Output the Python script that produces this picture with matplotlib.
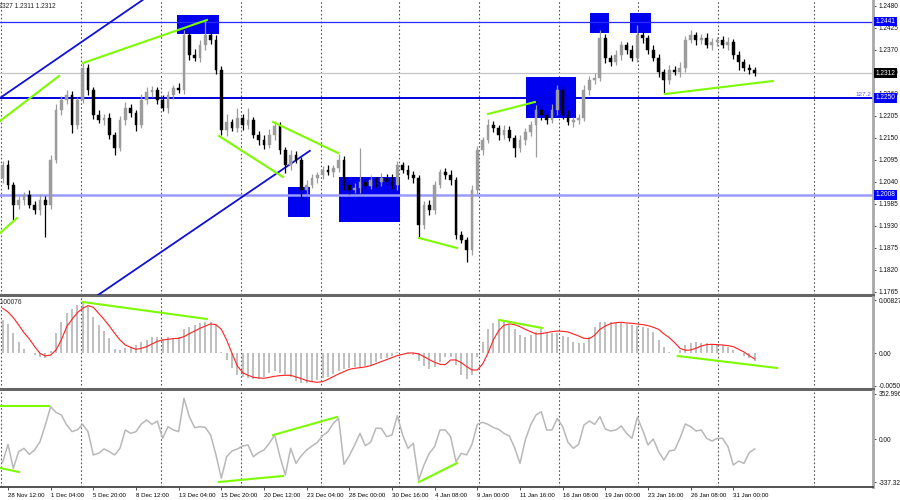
import matplotlib
matplotlib.use('Agg')
import matplotlib.pyplot as plt
import matplotlib.transforms as mtransforms
import numpy as np

# ---------------- data ----------------
first_open = 1.2050
close = [
    1.2083, 1.2033, 1.1983, 1.1995, 1.2008, 1.1983, 1.1970, 1.1995, 1.1983, 1.2095,
    1.2220, 1.2245, 1.2258, 1.2183, 1.2245, 1.2325, 1.2270, 1.2208, 1.2195, 1.2200,
    1.2158, 1.2125, 1.2195, 1.2225, 1.2213, 1.2183, 1.2245, 1.2265, 1.2270, 1.2245,
    1.2225, 1.2258, 1.2275, 1.2270, 1.2408, 1.2358, 1.2350, 1.2383, 1.2408, 1.2395,
    1.2320, 1.2170, 1.2190, 1.2175, 1.2200, 1.2183, 1.2195, 1.2158, 1.2145, 1.2133,
    1.2158, 1.2180, 1.2120, 1.2083, 1.2108, 1.2095, 1.2020, 1.2033, 1.2050, 1.2058,
    1.2070, 1.2065, 1.2075, 1.2095, 1.2033, 1.2020, 1.2025, 1.2040, 1.2030, 1.2045,
    1.2040, 1.2050, 1.2040, 1.2033, 1.2083, 1.2070, 1.2058, 1.2050, 1.1933, 1.1983,
    1.1970, 1.2033, 1.2065, 1.2058, 1.2045, 1.1908, 1.1895, 1.1870, 1.2020, 1.2120,
    1.2145, 1.2183, 1.2175, 1.2158, 1.2170, 1.2150, 1.2125, 1.2145, 1.2165, 1.2183,
    1.2220, 1.2208, 1.2195, 1.2220, 1.2270, 1.2208, 1.2190, 1.2195, 1.2200, 1.2270,
    1.2295, 1.2300, 1.2400, 1.2350, 1.2340, 1.2358, 1.2383, 1.2370, 1.2350, 1.2408,
    1.2400, 1.2370, 1.2350, 1.2315, 1.2295, 1.2320, 1.2315, 1.2325, 1.2395, 1.2408,
    1.2395, 1.2400, 1.2383, 1.2390, 1.2395, 1.2383, 1.2390, 1.2358, 1.2340, 1.2325,
    1.2320, 1.2312,
]
upper_wick_pips = [
    10, 12, 8, 10, 8, 12, 10, 15, 10, 12,
    15, 10, 12, 10, 8, 12, 10, 8, 12, 10,
    12, 8, 10, 15, 10, 8, 15, 12, 10, 8,
    12, 10, 8, 12, 12, 10, 15, 12, 37, 10,
    12, 10, 20, 8, 25, 10, 30, 8, 10, 12,
    15, 12, 10, 8, 12, 10, 8, 12, 10, 8,
    10, 12, 8, 15, 10, 8, 12, 85, 10, 12,
    8, 12, 10, 20, 10, 8, 12, 10, 8, 10,
    12, 10, 8, 10, 12, 8, 10, 8, 12, 10,
    8, 15, 10, 8, 12, 10, 8, 12, 10, 10,
    12, 10, 8, 15, 13, 10, 12, 8, 10, 12,
    10, 12, 20, 10, 8, 12, 10, 8, 12, 25,
    10, 8, 12, 10, 8, 12, 10, 15, 10, 12,
    8, 10, 12, 10, 8, 10, 12, 8, 10, 8,
    10, 8,
]
lower_wick_pips = [
    12, 10, 38, 10, 12, 8, 10, 12, 80, 10,
    8, 12, 10, 20, 10, 8, 12, 10, 8, 12,
    10, 17, 8, 12, 10, 15, 8, 10, 12, 10,
    8, 12, 10, 8, 10, 12, 8, 10, 12, 10,
    10, 12, 15, 8, 10, 12, 10, 8, 12, 10,
    8, 12, 10, 20, 12, 8, 25, 10, 8, 12,
    10, 8, 12, 10, 12, 10, 8, 12, 10, 8,
    12, 10, 8, 10, 12, 8, 10, 12, 30, 10,
    12, 10, 8, 10, 12, 10, 8, 30, 12, 10,
    12, 8, 10, 12, 10, 8, 22, 10, 12, 10,
    80, 12, 10, 8, 12, 10, 8, 12, 10, 8,
    12, 10, 8, 12, 10, 8, 12, 10, 8, 10,
    12, 10, 8, 12, 32, 10, 8, 12, 10, 8,
    12, 10, 8, 12, 10, 8, 12, 10, 20, 8,
    10, 8,
]
macd_hist = [
    0.00520, 0.00458, 0.00312, 0.00182, 0.00062, 0.00000, -0.00031, -0.00052, -0.00078, 0.00036,
    0.00312, 0.00494, 0.00624, 0.00686, 0.00754, 0.00806, 0.00728, 0.00572, 0.00442, 0.00354,
    0.00234, 0.00062, 0.00052, 0.00088, 0.00104, 0.00130, 0.00172, 0.00208, 0.00250, 0.00250,
    0.00229, 0.00260, 0.00244, 0.00250, 0.00374, 0.00416, 0.00442, 0.00468, 0.00494, 0.00494,
    0.00442, 0.00026, -0.00104, -0.00234, -0.00338, -0.00374, -0.00390, -0.00406, -0.00395, -0.00374,
    -0.00312, -0.00281, -0.00312, -0.00338, -0.00364, -0.00426, -0.00468, -0.00468, -0.00442, -0.00416,
    -0.00390, -0.00364, -0.00322, -0.00270, -0.00250, -0.00224, -0.00218, -0.00218, -0.00198, -0.00177,
    -0.00130, -0.00094, -0.00068, -0.00042, 0.00021, 0.00010, -0.00010, -0.00026, -0.00114, -0.00198,
    -0.00239, -0.00208, -0.00130, -0.00062, -0.00052, -0.00182, -0.00338, -0.00406, -0.00338, -0.00052,
    0.00182, 0.00374, 0.00468, 0.00504, 0.00489, 0.00442, 0.00374, 0.00286, 0.00260, 0.00286,
    0.00338, 0.00374, 0.00338, 0.00322, 0.00312, 0.00276, 0.00250, 0.00182, 0.00166, 0.00166,
    0.00250, 0.00406, 0.00484, 0.00494, 0.00484, 0.00478, 0.00468, 0.00458, 0.00442, 0.00426,
    0.00416, 0.00400, 0.00338, 0.00208, 0.00094, 0.00026, 0.00000, 0.00052, 0.00130, 0.00156,
    0.00172, 0.00166, 0.00156, 0.00140, 0.00130, 0.00125, 0.00094, 0.00052, 0.00000, -0.00042,
    -0.00078, -0.00114,
]
macd_signal = [
    0.00702, 0.00645, 0.00556, 0.00442, 0.00322, 0.00224, 0.00104, 0.00000, -0.00042, -0.00026,
    0.00052, 0.00208, 0.00416, 0.00530, 0.00634, 0.00702, 0.00744, 0.00718, 0.00624, 0.00530,
    0.00426, 0.00312, 0.00208, 0.00130, 0.00094, 0.00062, 0.00078, 0.00104, 0.00146, 0.00187,
    0.00208, 0.00218, 0.00229, 0.00234, 0.00260, 0.00307, 0.00348, 0.00390, 0.00426, 0.00458,
    0.00447, 0.00374, 0.00208, 0.00000, -0.00198, -0.00302, -0.00343, -0.00374, -0.00385, -0.00390,
    -0.00374, -0.00359, -0.00348, -0.00343, -0.00343, -0.00369, -0.00395, -0.00426, -0.00442, -0.00452,
    -0.00442, -0.00406, -0.00364, -0.00322, -0.00286, -0.00250, -0.00234, -0.00224, -0.00213, -0.00192,
    -0.00161, -0.00130, -0.00099, -0.00068, -0.00036, -0.00016, 0.00005, 0.00005, -0.00010, -0.00052,
    -0.00099, -0.00140, -0.00172, -0.00177, -0.00104, -0.00104, -0.00146, -0.00208, -0.00260, -0.00260,
    -0.00166, 0.00000, 0.00208, 0.00354, 0.00437, 0.00458, 0.00447, 0.00416, 0.00374, 0.00338,
    0.00302, 0.00307, 0.00322, 0.00338, 0.00348, 0.00343, 0.00333, 0.00302, 0.00270, 0.00234,
    0.00229, 0.00281, 0.00374, 0.00426, 0.00463, 0.00478, 0.00484, 0.00473, 0.00468, 0.00458,
    0.00447, 0.00432, 0.00406, 0.00374, 0.00302, 0.00244, 0.00166, 0.00078, 0.00047, 0.00052,
    0.00078, 0.00114, 0.00135, 0.00140, 0.00135, 0.00130, 0.00120, 0.00104, 0.00062, 0.00021,
    -0.00036, -0.00088,
]
cci = [
    -183, -42, -230, -99, -73, -120, -86, -21, 110, 253,
    209, 188, 110, 58, 71, 115, 58, -125, -112, -78,
    -99, -125, -73, 71, 44, 58, 118, 149, 115, 141,
    5, 97, 71, 58, 319, 175, 89, 97, 91, 31,
    -125, -308, -139, -94, -78, -55, -47, -139, -107, -86,
    -34, 31, -139, -282, -73, -191, -131, -86, -55, -26,
    26, 58, 123, 162, -199, -131, -47, 44, -52, -26,
    84, 84, 18, 31, 183, 31, -73, -34, -322, -204,
    -112, -60, 71, 71, 18, -178, -112, -125, -42, 115,
    131, 115, 91, 76, 44, 24, -68, -191, -8, 110,
    188, 214, 71, 71, 162, 97, -26, -73, -42, 110,
    141, 115, 175, 78, 63, 71, 102, 44, 5, 170,
    71, -47, 0, -99, -165, -94, -86, 5, 118, 97,
    63, 71, 5, -16, 5, 5, -60, -204, -173, -191,
    -107, -78,
]

price_ticks = [1.2480, 1.2425, 1.2370, 1.2315, 1.2260, 1.2205, 1.2150, 1.2095,
               1.2040, 1.1985, 1.1930, 1.1875, 1.1820, 1.1765]
macd_ticks = [0.00827, 0.0, -0.00503]
macd_tick_labels = ["0.00827", "0.00", "-0.00503"]
cci_ticks = [352.9968, 0.0, -337.326]
cci_tick_labels = ["352.9968", "0.00", "-337.326"]

date_labels = ["25 Nov 20:00", "28 Nov 12:00", "1 Dec 04:00", "5 Dec 20:00", "8 Dec 12:00",
               "13 Dec 04:00", "15 Dec 20:00", "20 Dec 12:00", "23 Dec 04:00", "28 Dec 00:00",
               "30 Dec 16:00", "4 Jan 08:00", "9 Jan 00:00", "11 Jan 16:00", "16 Jan 08:00",
               "19 Jan 00:00", "23 Jan 16:00", "26 Jan 08:00", "31 Jan 00:00"]
date_label_bars = [-7, 1, 9, 17, 25, 33, 41, 49, 57, 65, 73, 81, 89, 97, 105, 113, 121, 129, 137]
grid_bars = [-0.3, 14.7, 29.7, 44.7, 59.7, 74.3, 89.3, 104.3, 119.1, 134.1, 152.1]

level_prices = [1.2441, 1.2250, 1.2008]
current_price = 1.2312

# zones: (bar start, bar end, price low, price high)
zones = [(32.7, 40.6, 1.2410, 1.24575),
         (53.5, 57.6, 1.19525, 1.20275),
         (63.1, 74.5, 1.1940, 1.20525),
         (98.1, 107.5, 1.2200, 1.23025),
         (110.1, 113.7, 1.24125, 1.24625),
         (117.6, 121.6, 1.24125, 1.24625)]
blue_lines = [(-0.5, 1.2250, 26.9, 1.2501),
              (16.4, 1.1744, 57.6, 1.2118)]
green_price = [(-0.5, 1.21925, 10.56, 1.2305),
               (-0.5, 1.19125, 2.69, 1.1950),
               (15.06, 1.23375, 38.3, 1.2445),
               (40.56, 1.2155, 52.56, 1.20525),
               (50.69, 1.2190, 62.88, 1.21125),
               (78.07, 1.1900, 85.2, 1.1875),
               (91.0, 1.2210, 99.8, 1.2240),
               (124.2, 1.2260, 144.4, 1.22925)]
green_macd = [(15.06, 0.0080, 38.3, 0.00535),
              (93.1, 0.0052, 101.1, 0.00395),
              (126.6, -0.00042, 145.2, -0.00229)]
green_cci = [(-0.5, 259, 8.7, 259),
             (-0.5, -227, 3.06, -259),
             (40.56, -337, 52.56, -290),
             (50.69, 31, 62.7, 173),
             (78.07, -337, 85.2, -188)]

# ---------------- figure ----------------
W, H = 900, 500
fig = plt.figure(figsize=(9, 5), dpi=100, facecolor='white')
plt.rcParams['font.family'] = ['Liberation Sans', 'DejaVu Sans']
RIGHT = 873 / W
FS = 4.7

def fy(px):
    return 1 - px / H

ax_p = fig.add_axes([0, fy(295), RIGHT, 295 / H])
ax_m = fig.add_axes([0, fy(389), RIGHT, (389 - 297) / H], sharex=ax_p)
ax_c = fig.add_axes([0, fy(487), RIGHT, (487 - 391) / H], sharex=ax_p)

n = len(close)
x = np.arange(n)
c = np.array(close)
o = np.r_[first_open, c[:-1]]
top = np.maximum(o, c)
bot = np.minimum(o, c)
high = top + np.array(upper_wick_pips) * 1e-4
low = bot - np.array(lower_wick_pips) * 1e-4
bull = c >= o
ccol = np.where(bull, '#9c9c9c', '#000000')

xmin, xmax = -0.5, (873 - 2.67) / 5.333
grid_style = dict(color='#555555', lw=0.8, ls=(0, (1.5, 2.0)), zorder=1)

# ---- price panel ----
ax = ax_p
ax.set_ylim(1.2495 - 295 * 0.00025, 1.2495)
for g in grid_bars:
    ax.axvline(g, **grid_style)
for (b0, b1, p0, p1) in zones:
    ax.fill_between([b0, b1], p0, p1, color='#0000f0', lw=0, zorder=2)
ax.axhline(current_price, color='#c4c4c4', lw=0.9, zorder=1.5)
ax.axhline(level_prices[0], color='#2a2aff', lw=0.9, zorder=2.5)
ax.axhline(level_prices[1], color='#0000e0', lw=1.4, zorder=2.5)
ax.axhline(level_prices[2], color='#9a9aff', lw=1.8, zorder=2.5)
for (b0, p0, b1, p1) in blue_lines:
    ax.plot([b0, b1], [p0, p1], color='#1010d8', lw=1.3, zorder=3)
ax.vlines(x, low, high, colors=ccol, lw=0.9, zorder=4)
ax.bar(x, np.maximum(top - bot, 0.00008), bottom=bot, width=0.55,
       color=ccol, edgecolor=ccol, lw=0.3, zorder=5)
for (b0, p0, b1, p1) in green_price:
    ax.plot([b0, b1], [p0, p1], color='#7cfc00', lw=1.5, zorder=6)

ax.yaxis.tick_right()
ax.set_yticks(price_ticks)
ax.set_yticklabels(['%.4f' % t for t in price_ticks])
trans = mtransforms.blended_transform_factory(ax.transAxes, ax.transData)
boxes = [(level_prices[0], '#0000ff'), (current_price, '#000000'),
         (level_prices[1], '#0000ff'), (level_prices[2], '#0000ff')]
for (p, bg) in boxes:
    ax.text(1 + 2.5 / 873, p, '%.4f' % p, transform=trans, fontsize=FS, color='white',
            ha='left', va='center', clip_on=False, zorder=20,
            bbox=dict(boxstyle='square,pad=0.2', fc=bg, ec='none'))
ax.text(1 - 1.5 / 873, 1.22575, '127.2', transform=trans, fontsize=4.5, color='#5a5aff',
        ha='right', va='center', zorder=20)

# ---- MACD panel ----
ax = ax_m
ax.set_ylim(-(389 - 353.3) / 6409, (353.3 - 297) / 6409)
for g in grid_bars:
    ax.axvline(g, **grid_style)
ax.bar(x, macd_hist, width=0.38, color='#c0c0c0', lw=0, zorder=2)
ax.plot(x, macd_signal, color='#ff2020', lw=0.8, zorder=3)
for (b0, v0, b1, v1) in green_macd:
    ax.plot([b0, b1], [v0, v1], color='#7cfc00', lw=1.5, zorder=4)
ax.yaxis.tick_right()
ax.set_yticks(macd_ticks)
ax.set_yticklabels(macd_tick_labels)

# ---- CCI panel ----
ax = ax_c
ax.set_ylim(-(487 - 439) / 0.1275, (439 - 391) / 0.1275)
for g in grid_bars:
    ax.axvline(g, **grid_style)
ax.plot(x, cci, color='#b8b8b8', lw=1.1, zorder=3)
for (b0, v0, b1, v1) in green_cci:
    ax.plot([b0, b1], [v0, v1], color='#7cfc00', lw=1.5, zorder=4)
ax.yaxis.tick_right()
ax.set_yticks(cci_ticks)
ax.set_yticklabels(cci_tick_labels)
ax.set_xticks(date_label_bars)
ax.set_xticklabels(date_labels)
for lab in ax.get_xticklabels():
    lab.set_ha('left')
ax.tick_params(axis='x', direction='out', length=2.5, width=0.6, color='#333333',
               labelsize=4.4, pad=1.5)

# ---- common styling ----
for a in (ax_p, ax_m, ax_c):
    a.set_facecolor('white')
    a.tick_params(axis='y', direction='out', length=2.5, width=0.6, color='#333333',
                  labelsize=FS, pad=1.5, labelcolor='#111111')
    for s in ('left', 'top'):
        a.spines[s].set_visible(False)
    a.spines['right'].set_color('#a8a8a8')
    a.spines['right'].set_linewidth(2.0)
    a.spines['bottom'].set_color('#666666')
    a.spines['bottom'].set_linewidth(2.2)
for a in (ax_p, ax_m):
    a.tick_params(axis='x', bottom=False, labelbottom=False)
ax_c.spines['bottom'].set_linewidth(1.3)
ax_c.spines['bottom'].set_color('#444444')

# x limits set last (set_xticks would otherwise widen the view)
ax_p.set_xlim(xmin, xmax)

fig.text(-7 / W, fy(6.5), '1.2327 1.2311 1.2312', fontsize=FS, color='#222222',
         ha='left', va='center')
fig.text(-1 / W, fy(302), '0.00076', fontsize=FS, color='#222222', ha='left', va='center')

fig.savefig('out.png', dpi=100, facecolor='white')
